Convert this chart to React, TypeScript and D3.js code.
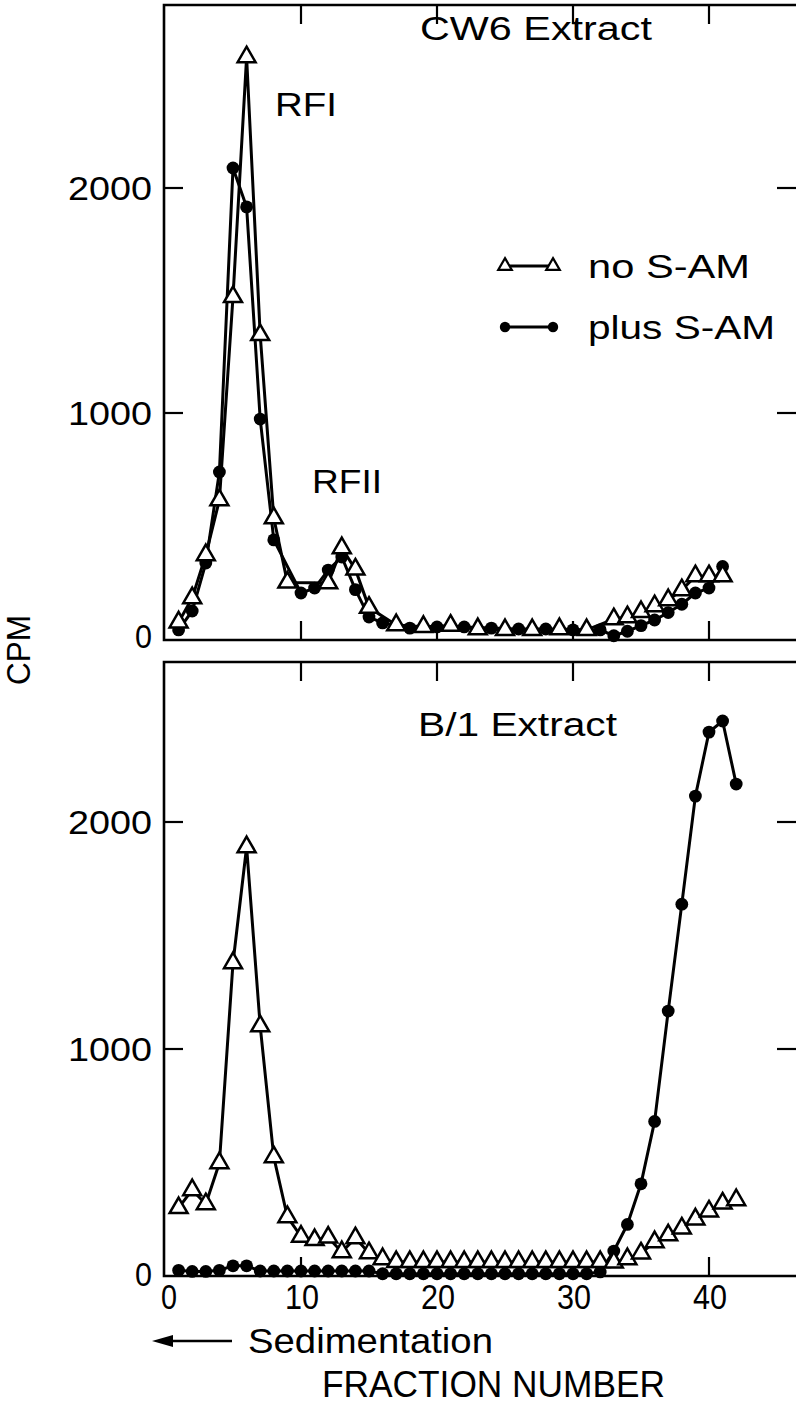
import React from 'react';
import * as d3 from 'd3';

const W = 796;
const H = 1405;

const xTickValues = [0, 10, 20, 30, 40];
const xTickLabels = ['0', '10', '20', '30', '40'];
const yTickValues = [0, 1000, 2000];
const yTickLabels = ['0', '1000', '2000'];

// Top panel: CW6 Extract, no S-AM (open triangles)
const cw6NoFrac = [1, 2, 3, 4, 5, 6, 7, 8, 9, 12, 13, 14, 15, 17, 19, 21, 23, 25, 27, 29, 31, 33, 34, 35, 36, 37, 38, 39, 40, 41];
const cw6NoCpm = [70, 178, 369, 613, 1516, 2582, 1347, 533, 247, 244, 400, 305, 135, 58, 50, 55, 40, 36, 36, 40, 36, 84, 93, 116, 142, 169, 213, 275, 275, 275];

// Top panel: CW6 Extract, plus S-AM (filled circles)
const cw6PlusFrac = [1, 2, 3, 4, 5, 6, 7, 8, 10, 11, 12, 13, 14, 15, 16, 18, 20, 22, 24, 26, 28, 30, 32, 33, 34, 35, 36, 37, 38, 39, 40, 41];
const cw6PlusCpm = [36, 120, 333, 738, 2089, 1916, 973, 436, 200, 222, 302, 360, 215, 93, 67, 44, 49, 49, 44, 40, 40, 36, 36, 10, 30, 55, 80, 113, 150, 200, 222, 318];

// Bottom panel: B/1 Extract, no S-AM (open triangles)
const b1NoFrac = [1, 2, 3, 4, 5, 6, 7, 8, 9, 10, 11, 12, 13, 14, 15, 16, 17, 18, 19, 20, 21, 22, 23, 24, 25, 26, 27, 28, 29, 30, 31, 32, 33, 34, 35, 36, 37, 38, 39, 40, 41, 42];
const b1NoCpm = [300, 379, 317, 498, 1379, 1890, 1101, 524, 260, 174, 159, 170, 106, 167, 101, 75, 62, 62, 62, 62, 62, 62, 62, 62, 62, 62, 62, 62, 62, 62, 62, 62, 60, 75, 100, 150, 180, 210, 250, 285, 320, 335];

// Bottom panel: B/1 Extract, plus S-AM (filled circles)
const b1PlusFrac = [1, 2, 3, 4, 5, 6, 7, 8, 9, 10, 11, 12, 13, 14, 15, 16, 17, 18, 19, 20, 21, 22, 23, 24, 25, 26, 27, 28, 29, 30, 31, 32, 33, 34, 35, 36, 37, 38, 39, 40, 41, 42];
const b1PlusCpm = [25, 20, 20, 25, 45, 45, 22, 22, 22, 22, 22, 22, 22, 22, 22, 10, 10, 10, 10, 10, 10, 10, 10, 10, 10, 10, 10, 10, 10, 10, 10, 18, 110, 227, 406, 681, 1167, 1638, 2114, 2396, 2445, 2167];

const legendLabels = ['no S-AM', 'plus S-AM'];

const FONT = '"Liberation Sans", Arial, Helvetica, sans-serif';

type Pt = { f: number; v: number };
const zip = (fs: number[], vs: number[]): Pt[] => fs.map((f, i) => ({ f, v: vs[i] }));

export default function App() {
  const x = d3.scaleLinear().domain([0, 40]).range([165, 709]);
  const yTop = d3.scaleLinear().domain([0, 2000]).range([638, 188]);
  const yBot = d3.scaleLinear().domain([0, 2000]).range([1276, 822]);

  const left = 164;
  const right = 800;
  const panels = [
    { y: yTop, top: 5, bottom: 640, no: zip(cw6NoFrac, cw6NoCpm), plus: zip(cw6PlusFrac, cw6PlusCpm) },
    { y: yBot, top: 662, bottom: 1276, no: zip(b1NoFrac, b1NoCpm), plus: zip(b1PlusFrac, b1PlusCpm) },
  ];

  const tri = d3.symbol().type(d3.symbolTriangle).size(140)();
  const triSmall = d3.symbol().type(d3.symbolTriangle).size(80)();
  const tickLen = 19;
  const lw = 3;

  return (
    <svg width={W} height={H} style={{ position: 'absolute', left: 0, top: 0, background: '#fff' }} fontFamily={FONT}>
      <rect x={0} y={0} width={W} height={H} fill="#fff" />
      {panels.map((p, pi) => {
        const line = d3.line<Pt>().x((d) => x(d.f)).y((d) => p.y(d.v));
        return (
          <g key={pi}>
            <path d={`M${right},${p.top}H${left}V${p.bottom}H${right}`} fill="none" stroke="#000" strokeWidth={2.6} />
            {xTickValues.filter((t) => t > 0).map((t) => (
              <line key={'tt' + t} x1={x(t)} x2={x(t)} y1={p.top} y2={p.top + tickLen} stroke="#000" strokeWidth={2.2} />
            ))}
            {xTickValues.filter((t) => t > 0).map((t) => (
              <line key={'bt' + t} x1={x(t)} x2={x(t)} y1={p.bottom} y2={p.bottom - tickLen} stroke="#000" strokeWidth={2.2} />
            ))}
            {yTickValues.filter((t) => t > 0).map((t) => (
              <g key={'yt' + t}>
                <line x1={left} x2={left + tickLen} y1={p.y(t)} y2={p.y(t)} stroke="#000" strokeWidth={2.2} />
                <line x1={W - tickLen} x2={W + 4} y1={p.y(t)} y2={p.y(t)} stroke="#000" strokeWidth={2.2} />
              </g>
            ))}
            {yTickValues.map((t, i) => (
              <text key={'yl' + t} x={152} y={p.y(t) - (t === 0 ? 2 : 0)} dy="0.36em" textAnchor="end" fontSize={34}
                textLength={yTickLabels[i].length === 4 ? 84 : 17} lengthAdjust="spacingAndGlyphs">
                {yTickLabels[i]}
              </text>
            ))}
            <path d={line(p.plus) || ''} fill="none" stroke="#000" strokeWidth={lw} strokeLinejoin="round" />
            <path d={line(p.no) || ''} fill="none" stroke="#000" strokeWidth={lw} strokeLinejoin="round" />
            {p.plus.map((d, i) => (
              <circle key={'c' + i} cx={x(d.f)} cy={p.y(d.v)} r={6.4} fill="#000" />
            ))}
            {p.no.map((d, i) => (
              <path key={'t' + i} d={tri || ''} transform={`translate(${x(d.f)},${p.y(d.v)})`} fill="#fff" stroke="#000" strokeWidth={2.5} strokeLinejoin="miter" />
            ))}
          </g>
        );
      })}

      <text x={420} y={40} fontSize={33} textLength={232} lengthAdjust="spacingAndGlyphs">CW6 Extract</text>
      <text x={275} y={116} fontSize={33} textLength={62} lengthAdjust="spacingAndGlyphs">RFI</text>
      <text x={312} y={493} fontSize={33} textLength={70} lengthAdjust="spacingAndGlyphs">RFII</text>
      <text x={418} y={736} fontSize={33} textLength={199} lengthAdjust="spacingAndGlyphs">B/1 Extract</text>

      <g>
        <line x1={505} x2={553} y1={266} y2={266} stroke="#000" strokeWidth={2.8} />
        <path d={triSmall || ''} transform="translate(505,266)" fill="#fff" stroke="#000" strokeWidth={2.2} />
        <path d={triSmall || ''} transform="translate(553,266)" fill="#fff" stroke="#000" strokeWidth={2.2} />
        <text x={588} y={278} fontSize={33} textLength={162} lengthAdjust="spacingAndGlyphs">{legendLabels[0]}</text>
        <line x1={505} x2={553} y1={327} y2={327} stroke="#000" strokeWidth={2.8} />
        <circle cx={505} cy={327} r={5.2} fill="#000" />
        <circle cx={553} cy={327} r={5.2} fill="#000" />
        <text x={588} y={339} fontSize={33} textLength={187} lengthAdjust="spacingAndGlyphs">{legendLabels[1]}</text>
      </g>

      {xTickValues.map((t, i) => (
        <text key={'xl' + t} x={x(t) + (t === 0 ? 4 : 1)} y={1309} textAnchor="middle" fontSize={35}
          textLength={xTickLabels[i].length === 2 ? 34 : 16} lengthAdjust="spacingAndGlyphs">
          {xTickLabels[i]}
        </text>
      ))}

      <text transform="translate(30,650) rotate(-90)" textAnchor="middle" fontSize={33} textLength={70} lengthAdjust="spacingAndGlyphs">CPM</text>

      <line x1={166} x2={232} y1={1341} y2={1341} stroke="#000" strokeWidth={2.6} />
      <path d="M152,1341 L173,1335 L173,1347 Z" fill="#000" />
      <text x={248} y={1353} fontSize={35} textLength={245} lengthAdjust="spacingAndGlyphs">Sedimentation</text>

      <text x={322} y={1397} fontSize={36} textLength={343} lengthAdjust="spacingAndGlyphs">FRACTION NUMBER</text>
    </svg>
  );
}
